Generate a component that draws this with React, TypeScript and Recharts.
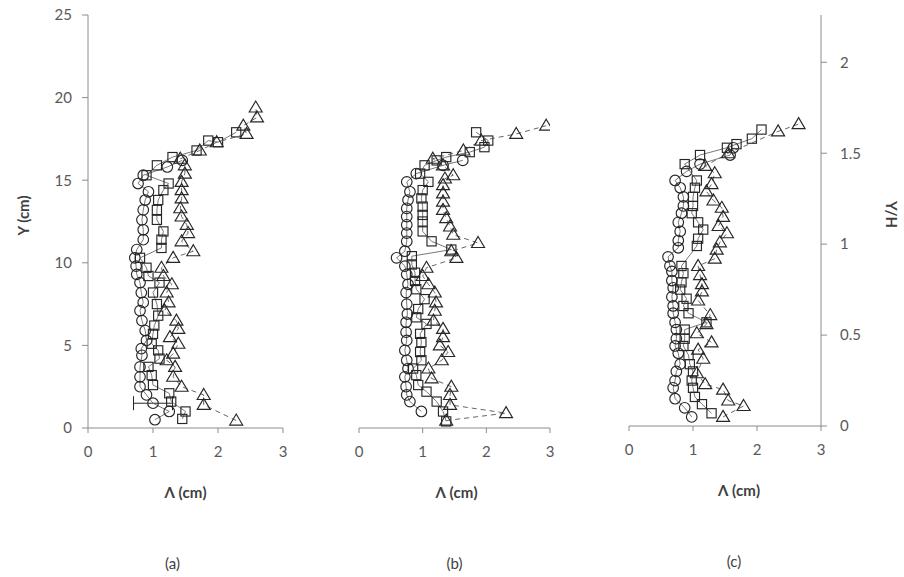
import { ScatterChart, Scatter, XAxis, YAxis, ErrorBar } from "recharts";

type Pt = [number, number];

// Λ (cm), Y (cm) — panel (a)
const aCircles: Pt[] = [[1.03,0.5],[1.25,1.0],[1.0,1.5],[0.9,2.0],[0.8,2.5],[0.8,3.1],[0.8,3.7],[0.83,4.4],[0.82,4.8],[0.9,5.3],[0.88,5.9],[0.83,6.5],[0.8,7.1],[0.85,7.6],[0.82,8.2],[0.8,8.8],[0.75,9.3],[0.74,9.8],[0.72,10.3],[0.75,10.8],[0.85,11.4],[0.85,12.0],[0.83,12.6],[0.85,13.2],[0.88,13.8],[0.93,14.3],[0.77,14.8],[0.85,15.3],[1.22,15.8],[1.45,16.2]];
const aSquares: Pt[] = [[1.45,0.55],[1.5,1.0],[1.28,1.6],[1.25,2.1],[1.0,2.6],[0.98,3.2],[0.93,3.7],[1.1,4.2],[1.08,4.7],[0.98,5.1],[1.0,5.7],[1.02,6.2],[1.08,6.8],[1.06,7.5],[1.0,8.2],[1.1,8.8],[0.93,9.2],[0.9,9.7],[0.8,10.3],[1.13,10.9],[1.13,11.4],[1.16,11.9],[1.06,12.6],[1.06,13.2],[1.08,13.8],[1.16,14.4],[1.24,14.8],[0.9,15.3],[1.06,15.9],[1.3,16.4],[1.67,16.8],[1.85,17.4],[2.0,17.3],[2.28,17.9]];
const aTriangles: Pt[] = [[2.28,0.45],[1.78,1.4],[1.78,2.0],[1.44,2.5],[1.31,3.1],[1.34,3.7],[1.21,4.1],[1.31,4.5],[1.39,5.1],[1.26,5.5],[1.39,6.0],[1.36,6.5],[1.18,7.1],[1.24,7.6],[1.21,8.2],[1.29,8.7],[1.16,9.2],[1.13,9.7],[1.31,10.3],[1.62,10.7],[1.44,11.3],[1.54,11.8],[1.52,12.3],[1.44,12.8],[1.42,13.3],[1.44,13.9],[1.44,14.4],[1.44,14.9],[1.49,15.4],[1.49,15.9],[1.42,16.3],[1.72,16.8],[1.98,17.3],[2.44,17.8],[2.39,18.3],[2.6,18.8],[2.58,19.4]];
// error bar (± Λ) on the circle at Y = 1.5
const aCircleErr = [0, 0, 0.3];

// Λ (cm), Y (cm) — panel (b)
const bCircles: Pt[] = [[0.98,1.0],[0.8,1.6],[0.75,2.0],[0.74,2.5],[0.72,3.1],[0.77,3.6],[0.75,4.1],[0.72,4.7],[0.75,5.3],[0.74,5.8],[0.74,6.4],[0.76,6.9],[0.75,7.5],[0.74,8.2],[0.77,8.7],[0.75,9.3],[0.72,9.8],[0.59,10.3],[0.72,10.7],[0.75,11.3],[0.75,11.8],[0.75,12.3],[0.75,12.8],[0.75,13.3],[0.77,13.8],[0.8,14.3],[0.75,14.9],[0.9,15.4],[1.32,15.9],[1.63,16.2]];
const bSquares: Pt[] = [[1.37,0.4],[1.32,1.0],[1.22,1.6],[1.06,2.2],[0.93,2.6],[0.9,3.2],[0.85,3.6],[0.98,4.1],[0.96,4.6],[0.98,5.2],[0.96,5.7],[1.06,6.3],[0.9,6.7],[0.93,7.2],[1.03,7.8],[0.9,8.4],[0.88,8.9],[0.88,9.4],[0.83,9.9],[0.83,10.4],[1.45,10.8],[1.14,11.3],[1.0,11.9],[1.0,12.5],[1.0,12.9],[1.0,13.4],[0.98,13.9],[1.0,14.4],[1.09,14.9],[0.96,15.4],[1.03,15.9],[1.22,16.2],[1.37,16.4],[1.74,16.7],[1.97,17.0],[2.03,17.4],[1.84,17.9]];
const bTriangles: Pt[] = [[1.37,0.45],[2.31,0.9],[1.43,1.4],[1.43,2.0],[1.45,2.5],[1.14,3.0],[1.09,3.6],[1.3,4.1],[1.4,4.6],[1.27,5.0],[1.32,5.5],[1.32,6.0],[1.17,6.5],[1.19,7.1],[1.21,7.6],[1.19,8.2],[1.09,8.7],[1.0,9.2],[1.06,9.7],[1.53,10.3],[1.45,10.7],[1.87,11.2],[1.48,11.7],[1.43,12.2],[1.37,12.7],[1.32,13.2],[1.32,13.7],[1.32,14.2],[1.32,14.7],[1.35,15.1],[1.48,15.3],[1.32,15.9],[1.16,16.3],[1.64,16.8],[1.92,17.4],[2.47,17.8],[2.94,18.3]];

// Λ (cm), Y/H — panel (c)
const cCircles: Pt[] = [[0.98,0.05],[0.87,0.1],[0.72,0.15],[0.69,0.21],[0.72,0.25],[0.74,0.3],[0.8,0.34],[0.77,0.4],[0.72,0.44],[0.74,0.48],[0.74,0.53],[0.72,0.57],[0.69,0.62],[0.69,0.66],[0.67,0.71],[0.69,0.76],[0.67,0.8],[0.67,0.85],[0.64,0.88],[0.61,0.93],[0.77,0.98],[0.77,1.02],[0.8,1.07],[0.77,1.12],[0.82,1.17],[0.85,1.21],[0.85,1.26],[0.8,1.31],[0.72,1.35],[0.9,1.4],[1.11,1.44],[1.58,1.49],[1.63,1.53]];
const cSquares: Pt[] = [[1.29,0.07],[1.14,0.12],[1.03,0.16],[1.0,0.21],[0.98,0.25],[1.0,0.3],[0.95,0.34],[0.93,0.39],[0.85,0.44],[0.87,0.48],[0.87,0.53],[1.21,0.57],[0.93,0.62],[0.85,0.66],[0.9,0.7],[0.8,0.75],[0.82,0.79],[0.85,0.84],[0.82,0.88],[1.06,0.99],[1.08,1.03],[1.16,1.08],[1.08,1.12],[0.98,1.17],[1.0,1.21],[1.0,1.26],[1.03,1.31],[1.06,1.35],[0.87,1.44],[1.11,1.49],[1.53,1.53],[1.68,1.55],[1.92,1.58],[2.07,1.63]];
const cTriangles: Pt[] = [[1.47,0.05],[1.79,0.11],[1.55,0.14],[1.47,0.2],[1.19,0.23],[1.06,0.29],[1.16,0.37],[1.08,0.42],[1.29,0.46],[1.06,0.51],[1.21,0.56],[1.27,0.61],[1.08,0.69],[1.14,0.74],[1.14,0.78],[1.11,0.83],[1.08,0.88],[1.34,0.92],[1.37,0.97],[1.42,1.01],[1.53,1.06],[1.4,1.1],[1.47,1.15],[1.45,1.2],[1.32,1.24],[1.21,1.29],[1.29,1.33],[1.34,1.39],[1.19,1.43],[1.55,1.5],[2.33,1.62],[2.65,1.66]];

const ticksX = [0, 1, 2, 3];
const ticksY = [0, 5, 10, 15, 20, 25];
const ticksYH = [0, 0.5, 1, 1.5, 2];
const panelNames = ["(a)", "(b)", "(c)"];

const FONT = "Lato, 'Open Sans', sans-serif";
const AXIS = "#8c8c8c";
const INK = "#262626";

const toRows = (pts: Pt[], err?: number[]) =>
  pts.map(([x, y], i) => ({ x, y, ex: err && err[i] ? err[i] : undefined }));

const tickStyle = { fill: "#595959", fontSize: 15, fontFamily: FONT };

const circleShape = (p: any) => (
  <circle cx={p.cx} cy={p.cy} r={5.3} fill="none" stroke={INK} strokeWidth={1.15} />
);
const squareShape = (p: any) => (
  <rect x={p.cx - 4.6} y={p.cy - 4.6} width={9.2} height={9.2} fill="none" stroke={INK} strokeWidth={1.15} />
);
const triangleShape = (p: any) => (
  <path
    d={`M${p.cx},${p.cy - 6.5}L${p.cx + 6.5},${p.cy + 4.5}L${p.cx - 6.5},${p.cy + 4.5}Z`}
    fill="none"
    stroke={INK}
    strokeWidth={1.15}
  />
);

const solidLine = { stroke: "#555", strokeWidth: 0.8 };
const dashLine = { stroke: "#555", strokeWidth: 0.9, strokeDasharray: "5 4" };

function xTitle(name: string, shift: number, nameShift: number) {
  return (props: any) => {
    const { x, y, width } = props.viewBox;
    const cx = x + width / 2;
    return (
      <g>
        <text x={cx + shift} y={y + 64} textAnchor="middle" dominantBaseline="central"
          fontFamily={FONT} fontSize={15} fontWeight="bold" fill="#404040">
          Λ (cm)
        </text>
        <text x={cx + nameShift} y={y + 135} textAnchor="middle" dominantBaseline="central"
          fontFamily={FONT} fontSize={15} fill="#404040">
          {name}
        </text>
      </g>
    );
  };
}

function yTitle(text: string, px: number, angle: number) {
  return (props: any) => {
    const { y, height } = props.viewBox;
    const cy = y + height / 2 - 6;
    return (
      <text x={px} y={cy} textAnchor="middle" dominantBaseline="central"
        transform={`rotate(${angle}, ${px}, ${cy})`}
        fontFamily={FONT} fontSize={15} fontWeight="bold" fill="#404040">
        {text}
      </text>
    );
  };
}

function Panel({
  circles, squares, triangles, err, left, width, margin, name, shift, nameShift, yAxis,
}: any) {
  return (
    <div style={{ position: "absolute", left, top: 0 }}>
      <ScatterChart width={width} height={577} margin={margin}>
        <XAxis
          type="number" dataKey="x" domain={[0, 3]} ticks={ticksX} allowDataOverflow
          height={577 - 428} tickSize={5} tickMargin={13} tick={tickStyle}
          axisLine={{ stroke: AXIS }} tickLine={{ stroke: AXIS }}
          label={xTitle(name, shift, nameShift)}
        />
        {yAxis}
        <Scatter data={toRows(circles, err)} shape={circleShape} line={solidLine} isAnimationActive={false}>
          {err && <ErrorBar dataKey="ex" direction="x" width={7} stroke={INK} strokeWidth={1} />}
        </Scatter>
        <Scatter data={toRows(squares)} shape={squareShape} line={solidLine} isAnimationActive={false} />
        <Scatter data={toRows(triangles)} shape={triangleShape} line={dashLine} isAnimationActive={false} />
      </ScatterChart>
    </div>
  );
}

export default function App() {
  return (
    <div style={{ position: "absolute", left: 0, top: 0, width: 904, height: 577, background: "#fff" }}>
      <Panel
        circles={aCircles} squares={aSquares} triangles={aTriangles} err={aCircleErr}
        left={0} width={300} margin={{ top: 15, right: 17, left: 0, bottom: 0 }}
        name={panelNames[0]} shift={0} nameShift={-13}
        yAxis={
          <YAxis type="number" dataKey="y" domain={[0, 25]} ticks={ticksY} width={88}
            tickSize={6} tickMargin={10} tick={tickStyle}
            axisLine={{ stroke: AXIS }} tickLine={{ stroke: AXIS }}
            label={yTitle("Y (cm)", 23, -90)} />
        }
      />
      <Panel
        circles={bCircles} squares={bSquares} triangles={bTriangles}
        left={300} width={260} margin={{ top: 15, right: 10, left: 59, bottom: 0 }}
        name={panelNames[1]} shift={2} nameShift={0}
        yAxis={<YAxis type="number" dataKey="y" domain={[0, 25]} hide />}
      />
      <Panel
        circles={cCircles} squares={cSquares} triangles={cTriangles}
        left={560} width={344} margin={{ top: 15, right: 0, left: 69, bottom: 2 }}
        name={panelNames[2]} shift={14} nameShift={9}
        yAxis={
          <YAxis type="number" dataKey="y" orientation="right" domain={[0, 2.26]} ticks={ticksYH}
            width={83} tickSize={6} tickMargin={13} tick={tickStyle}
            axisLine={{ stroke: AXIS }} tickLine={{ stroke: AXIS }}
            label={yTitle("Y/H", 892 - 560, 90)} />
        }
      />
    </div>
  );
}
